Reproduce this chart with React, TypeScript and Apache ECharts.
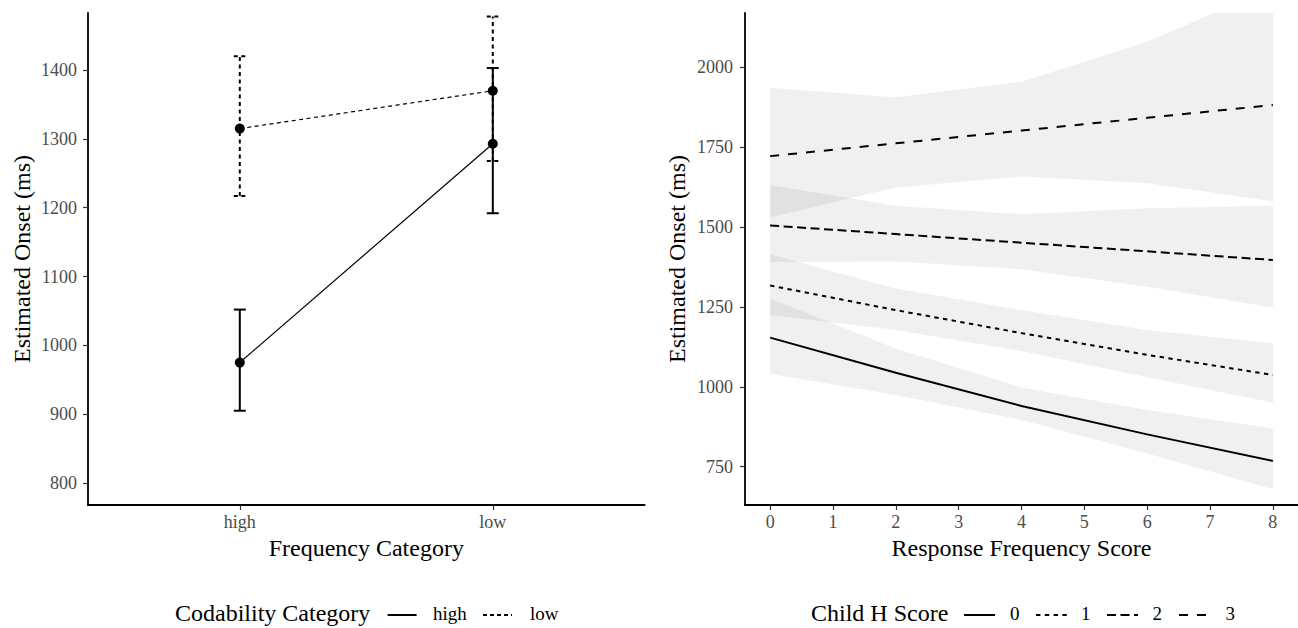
import React, { useEffect, useRef } from "react";
import * as echarts from "echarts";

// ---------- Left panel data ----------
const freqCats = ["high", "low"];
const codCats = ["high", "low"];
const codHighMean = [975, 1293];
const codHighLo = [905, 1192];
const codHighHi = [1052, 1403];
const codLowMean = [1315, 1370];
const codLowLo = [1217, 1268];
const codLowHi = [1420, 1478];
const leftYTicks = [800, 900, 1000, 1100, 1200, 1300, 1400];

// ---------- Right panel data ----------
const hScores = ["0", "1", "2", "3"];
const rfScores = [0, 2, 4, 6, 8];
const fit0 = [1154, 1044, 940, 851, 768];
const lo0 = [1040, 974, 896, 791, 679];
const hi0 = [1276, 1120, 998, 927, 870];
const fit1 = [1317, 1240, 1168, 1100, 1037];
const lo1 = [1225, 1178, 1112, 1030, 950];
const hi1 = [1415, 1308, 1240, 1178, 1136];
const fit2 = [1505, 1478, 1451, 1424, 1397];
const lo2 = [1391, 1392, 1368, 1313, 1248];
const hi2 = [1632, 1567, 1540, 1559, 1567];
const fit3 = [1722, 1762, 1802, 1842, 1882];
const lo3 = [1530, 1624, 1658, 1637, 1580];
const hi3 = [1936, 1906, 1955, 2080, 2250];
const rightXTicks = [0, 1, 2, 3, 4, 5, 6, 7, 8];
const rightYTicks = [750, 1000, 1250, 1500, 1750, 2000];

const FONT = '"Liberation Serif", "Times New Roman", serif';
const dashRight: (number[] | "solid")[] = ["solid", [4.4, 4.4], [9, 4.5], [9, 9]];
const dashLeft: (number[] | "solid")[] = ["solid", [4, 3.5]];

export default function App() {
  const ref = useRef<HTMLDivElement>(null);
  useEffect(() => {
    if (!ref.current) return;
    const chart = echarts.init(ref.current, null, { renderer: "svg" });

    const axisCommon = (gridIndex: number) => ({
      gridIndex,
      type: "value" as const,
      axisLine: { show: true, onZero: false, lineStyle: { color: "#000", width: 1.8 } },
      axisTick: { show: true, length: 5, lineStyle: { color: "#333", width: 1.2 } },
      splitLine: { show: false },
      nameLocation: "middle" as const,
      nameTextStyle: { color: "#000", fontSize: 24, fontFamily: FONT },
    });
    const labelStyle = { color: "#4d4d4d", fontSize: 18, fontFamily: FONT };
    const plain = (v: number) => String(v);

    const lows = [codHighLo, codLowLo];
    const highs = [codHighHi, codLowHi];
    const means = [codHighMean, codLowMean];

    const series: any[] = [];
    // Left: error bars
    codCats.forEach((c, gi) => {
      series.push({
        type: "custom",
        xAxisIndex: 0,
        yAxisIndex: 0,
        data: freqCats.map((_, i) => [i + 1, lows[gi][i], highs[gi][i]]),
        encode: { x: 0, y: [1, 2] },
        z: 2,
        renderItem: (params: any, api: any) => {
          const x = api.value(0);
          const pLo = api.coord([x, api.value(1)]);
          const pHi = api.coord([x, api.value(2)]);
          const half = 6;
          const dash = dashLeft[gi] === "solid" ? null : (dashLeft[gi] as number[]);
          const st = { stroke: "#000", lineWidth: 2, lineDash: dash };
          return {
            type: "group",
            children: [
              { type: "line", shape: { x1: pLo[0], y1: pLo[1], x2: pHi[0], y2: pHi[1] }, style: st },
              { type: "line", shape: { x1: pLo[0] - half, y1: pLo[1], x2: pLo[0] + half, y2: pLo[1] }, style: st },
              { type: "line", shape: { x1: pHi[0] - half, y1: pHi[1], x2: pHi[0] + half, y2: pHi[1] }, style: st },
            ],
          };
        },
      });
    });
    codCats.forEach((c, gi) => {
      series.push({
        type: "line",
        name: c,
        xAxisIndex: 0,
        yAxisIndex: 0,
        data: freqCats.map((_, i) => [i + 1, means[gi][i]]),
        symbol: "circle",
        symbolSize: 10,
        itemStyle: { color: "#000" },
        lineStyle: { color: "#000", width: 1.2, type: dashLeft[gi] },
        z: 3,
      });
    });

    // Right: ribbons (one polygon per band, drawn through the axis scales)
    const fits = [fit0, fit1, fit2, fit3];
    const los = [lo0, lo1, lo2, lo3];
    const his = [hi0, hi1, hi2, hi3];
    hScores.forEach((h, k) => {
      series.push({
        type: "custom",
        xAxisIndex: 1,
        yAxisIndex: 1,
        data: rfScores.map((x, i) => [x, los[k][i], his[k][i]]),
        encode: { x: 0, y: [1, 2] },
        clip: true,
        silent: true,
        z: 1,
        renderItem: (params: any, api: any) => {
          if (params.dataIndex !== 0) return null;
          const upper = rfScores.map((x, i) => api.coord([x, his[k][i]]));
          const lower = rfScores.map((x, i) => api.coord([x, los[k][i]])).reverse();
          const cs = params.coordSys;
          return {
            type: "group",
            children: [
              {
                type: "polygon",
                shape: { points: upper.concat(lower) },
                style: { fill: "rgba(0,0,0,0.06)" },
              },
            ],
            clipPath: {
              type: "rect",
              shape: { x: cs.x, y: cs.y, width: cs.width, height: cs.height },
            },
          };
        },
      });
    });
    hScores.forEach((h, k) => {
      series.push({
        type: "line",
        name: "H" + h,
        xAxisIndex: 1,
        yAxisIndex: 1,
        data: rfScores.map((x, i) => [x, fits[k][i]]),
        symbol: "none",
        lineStyle: { color: "#000", width: 2, type: dashRight[k] },
        z: 3,
      });
    });

    // Legends as graphics
    const graphics: any[] = [];
    const legendY = 615;
    const leftKeyX = [387.6, 483];
    const leftLabelX = [433, 530];
    graphics.push({
      type: "text", left: 175, top: legendY - 14,
      style: { text: "Codability Category", fontSize: 24, fontFamily: FONT, fill: "#000" },
    });
    codCats.forEach((c, i) => {
      graphics.push({
        type: "line",
        shape: { x1: leftKeyX[i], y1: legendY, x2: leftKeyX[i] + 29, y2: legendY },
        style: { stroke: "#000", lineWidth: 2, lineDash: dashLeft[i] === "solid" ? null : [4, 3] },
      });
      graphics.push({
        type: "text", left: leftLabelX[i], top: legendY - 11,
        style: { text: c, fontSize: 19, fontFamily: FONT, fill: "#000" },
      });
    });
    const rightKeyX = [964, 1036, 1107, 1179];
    const rightLabelX = [1010, 1081, 1152.5, 1225.6];
    graphics.push({
      type: "text", left: 811, top: legendY - 14,
      style: { text: "Child H Score", fontSize: 24, fontFamily: FONT, fill: "#000" },
    });
    hScores.forEach((h, i) => {
      graphics.push({
        type: "line",
        shape: { x1: rightKeyX[i], y1: legendY, x2: rightKeyX[i] + 31, y2: legendY },
        style: { stroke: "#000", lineWidth: 2, lineDash: dashRight[i] === "solid" ? null : dashRight[i] },
      });
      graphics.push({
        type: "text", left: rightLabelX[i], top: legendY - 11,
        style: { text: h, fontSize: 19, fontFamily: FONT, fill: "#000" },
      });
    });

    chart.setOption({
      animation: false,
      backgroundColor: "#fff",
      grid: [
        { left: 88, top: 13, width: 556.6, height: 492 },
        { left: 745, top: 13, width: 555.7, height: 492 },
      ],
      xAxis: [
        {
          ...axisCommon(0),
          min: 0.4,
          max: 2.6,
          axisTick: { show: true, length: 5, customValues: [1, 2], lineStyle: { color: "#333", width: 1.2 } },
          axisLabel: {
            ...labelStyle,
            margin: 8,
            customValues: [1, 2],
            formatter: (v: number) => freqCats[Math.round(v) - 1] ?? "",
          },
          name: "Frequency Category",
          nameGap: 30,
        },
        {
          ...axisCommon(1),
          min: -0.4,
          max: 8.4,
          axisTick: { show: true, length: 5, customValues: rightXTicks, lineStyle: { color: "#333", width: 1.2 } },
          axisLabel: { ...labelStyle, margin: 8, customValues: rightXTicks, formatter: plain },
          name: "Response Frequency Score",
          nameGap: 30,
        },
      ],
      yAxis: [
        {
          ...axisCommon(0),
          min: 768,
          max: 1483,
          axisTick: { show: true, length: 5, customValues: leftYTicks, lineStyle: { color: "#333", width: 1.2 } },
          axisLabel: { ...labelStyle, margin: 11, customValues: leftYTicks, formatter: plain },
          name: "Estimated Onset (ms)",
          nameGap: 54,
        },
        {
          ...axisCommon(1),
          min: 630,
          max: 2170,
          axisTick: { show: true, length: 5, customValues: rightYTicks, lineStyle: { color: "#333", width: 1.2 } },
          axisLabel: { ...labelStyle, margin: 12, customValues: rightYTicks, formatter: plain },
          name: "Estimated Onset (ms)",
          nameGap: 56,
        },
      ],
      series,
      graphic: graphics,
    });
    return () => chart.dispose();
  }, []);
  return (
    <div
      ref={ref}
      style={{ position: "fixed", left: 0, top: 0, width: 1298, height: 628, background: "#fff" }}
    />
  );
}
